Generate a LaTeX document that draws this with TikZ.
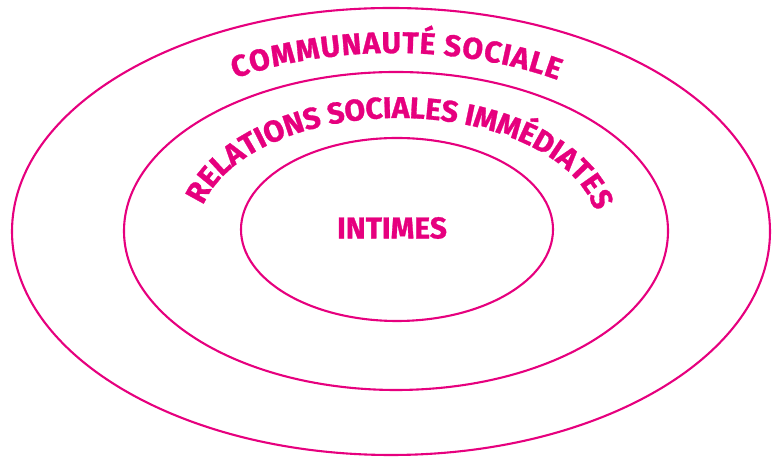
\documentclass[tikz,border=0pt]{standalone}
\usepackage{fontspec}
\setmainfont{Fira Sans}[BoldFeatures={FakeBold=1.0}]
\usetikzlibrary{decorations.text}
\definecolor{rose}{HTML}{E6007E}
\newcommand{\arcfont}{\bfseries\fontsize{30}{30}\selectfont}
\begin{document}
\begin{tikzpicture}[x=1pt,y=1pt,
  ring/.style={draw=rose, line width=2.1pt},
  arctext/.style={decorate, decoration={text effects along path, text={#1},
      text effects/.cd, text along path, fit text to path,
      character widths={inner sep=0pt, font=\arcfont},
      characters={inner sep=0pt, text=rose, font=\arcfont}}},
  centretext/.style={text=rose, inner sep=0pt, font=\bfseries\fontsize{30}{30}\selectfont}]
\useasboundingbox (0,0) rectangle (772,457);

% three nested rings
\draw[ring] (391,225.5) ellipse [x radius=379pt, y radius=223.5pt];
\draw[ring] (396,226) ellipse [x radius=272pt, y radius=159pt];
\draw[ring] (397,227.5) ellipse [x radius=156pt, y radius=91.5pt];

% ring labels set along arcs
\path[arctext={COMMUNAUTÉ SOCIALE}]
  (394,226) ++(121:309pt and 178pt)
  arc [start angle=121, end angle=58, x radius=309pt, y radius=178pt];
\path[arctext={RELATIONS SOCIALES IMMÉDIATES}]
  (398,226) ++(167:200pt and 113pt)
  arc [start angle=167, end angle=10, x radius=200pt, y radius=113pt];

\node[centretext] (intimes) at (392,229) {INTIMES};
\end{tikzpicture}
\end{document}
